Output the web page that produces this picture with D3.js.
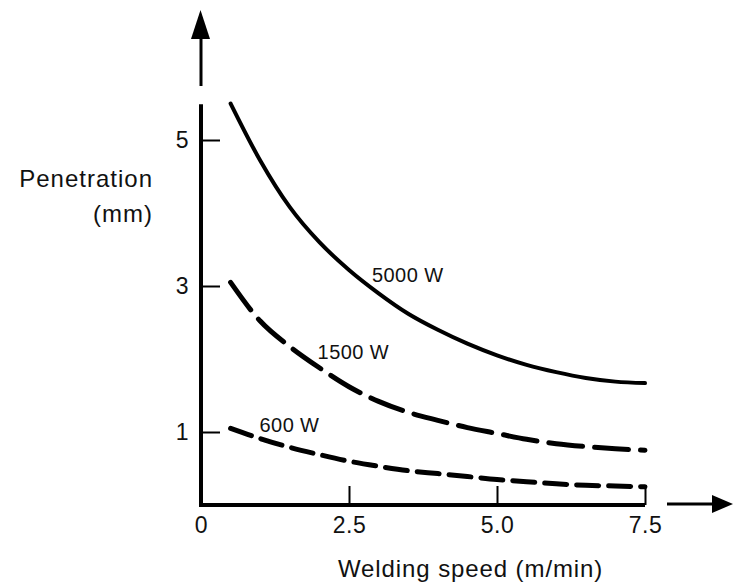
<!DOCTYPE html>
<html>
<head>
<meta charset="utf-8">
<script src="https://cdn.jsdelivr.net/npm/d3@7"></script>
<style>
  body { margin: 0; background: #fff; }
  svg { display: block; font-family: "Liberation Sans", Arial, sans-serif; }
  .tick line { stroke: #000; stroke-width: 2; }
  .tick text { font-size: 23px; fill: #111; letter-spacing: 0.5px; }
</style>
</head>
<body>
<script>
// speeds (m/min) at which curves were read
var speed = [0.5, 1.0, 1.5, 2.0, 2.5, 3.0, 3.5, 4.0, 4.5, 5.0, 5.5, 6.0, 6.5, 7.0, 7.5];
// penetration (mm) for each power
var pen5000 = [5.5, 4.72, 4.08, 3.6, 3.22, 2.9, 2.62, 2.4, 2.21, 2.05, 1.92, 1.82, 1.74, 1.69, 1.67];
var pen1500 = [3.05, 2.52, 2.17, 1.88, 1.62, 1.42, 1.27, 1.16, 1.06, 0.98, 0.9, 0.84, 0.8, 0.77, 0.75];
var pen600  = [1.05, 0.91, 0.79, 0.69, 0.6, 0.53, 0.47, 0.43, 0.39, 0.35, 0.32, 0.29, 0.27, 0.26, 0.25];
var xTicks = [0, 2.5, 5.0, 7.5];
var yTicks = [1, 3, 5];
var curveLabels = ["5000 W", "1500 W", "600 W"];

var W = 733, H = 586;
var svg = d3.select("body").append("svg")
  .attr("width", W)
  .attr("height", H);

var x = d3.scaleLinear().domain([0, 7.5]).range([201, 645]);
var y = d3.scaleLinear().domain([0, 5]).range([505, 140]);

// axis lines
svg.append("line")
  .attr("x1", x(0)).attr("x2", x(0))
  .attr("y1", y(5.49)).attr("y2", y(0) + 2)
  .attr("stroke", "#000").attr("stroke-width", 4);
svg.append("line")
  .attr("x1", x(0) - 2).attr("x2", x(7.5))
  .attr("y1", y(0)).attr("y2", y(0))
  .attr("stroke", "#000").attr("stroke-width", 4);

// arrows
svg.append("line")
  .attr("x1", x(0)).attr("x2", x(0)).attr("y1", 86).attr("y2", 38)
  .attr("stroke", "#000").attr("stroke-width", 3);
svg.append("path")
  .attr("d", "M191,39 L210,39 L200.5,10 Z").attr("fill", "#000");
svg.append("line")
  .attr("x1", 667).attr("x2", 713).attr("y1", y(0) - 1).attr("y2", y(0) - 1)
  .attr("stroke", "#000").attr("stroke-width", 3);
svg.append("path")
  .attr("d", "M712,495 L712,513 L733,504 Z").attr("fill", "#000");

// ticks
var gx = svg.append("g")
  .attr("transform", "translate(0," + y(0) + ")")
  .call(d3.axisBottom(x).tickValues(xTicks)
    .tickFormat(function(d) { return d === 0 ? "0" : d3.format(".1f")(d); })
    .tickSizeInner(-19).tickSizeOuter(0).tickPadding(12));
gx.select(".domain").remove();
gx.selectAll(".tick").filter(function(d) { return d === 0; }).select("line").remove();

var gy = svg.append("g")
  .attr("transform", "translate(" + x(0) + ",0)")
  .call(d3.axisLeft(y).tickValues(yTicks)
    .tickFormat(d3.format("d"))
    .tickSizeInner(-19).tickSizeOuter(0).tickPadding(12));
gy.select(".domain").remove();

// curves
var line = d3.line()
  .x(function(d) { return x(d[0]); })
  .y(function(d) { return y(d[1]); })
  .curve(d3.curveMonotoneX);

var series = [
  { v: pen5000, dash: null, w: 4 },
  { v: pen1500, dash: "34,12", w: 5 },
  { v: pen600, dash: "22,10", w: 5 }
];
series.forEach(function(s) {
  svg.append("path")
    .datum(d3.zip(speed, s.v))
    .attr("d", line)
    .attr("fill", "none")
    .attr("stroke", "#000")
    .attr("stroke-width", s.w)
    .attr("stroke-linecap", "round")
    .attr("stroke-dasharray", s.dash);
});

// curve labels
var labelPos = [[2.89, 3.05], [1.97, 2.0], [0.99, 1.0]];
svg.selectAll(".clabel")
  .data(curveLabels)
  .enter().append("text")
  .attr("class", "clabel")
  .attr("x", function(d, i) { return x(labelPos[i][0]); })
  .attr("y", function(d, i) { return y(labelPos[i][1]); })
  .attr("font-size", 20)
  .attr("letter-spacing", 0.4)
  .attr("fill", "#111")
  .text(function(d) { return d; });

// axis titles
svg.append("text")
  .attr("x", 153).attr("y", 187)
  .attr("text-anchor", "end")
  .attr("font-size", 24).attr("letter-spacing", 1)
  .attr("fill", "#111")
  .text("Penetration");
svg.append("text")
  .attr("x", 153).attr("y", 222)
  .attr("text-anchor", "end")
  .attr("font-size", 24).attr("letter-spacing", 1)
  .attr("fill", "#111")
  .text("(mm)");
svg.append("text")
  .attr("x", 338).attr("y", 577)
  .attr("font-size", 24).attr("letter-spacing", 0.9)
  .attr("fill", "#111")
  .text("Welding speed (m/min)");
</script>
</body>
</html>
